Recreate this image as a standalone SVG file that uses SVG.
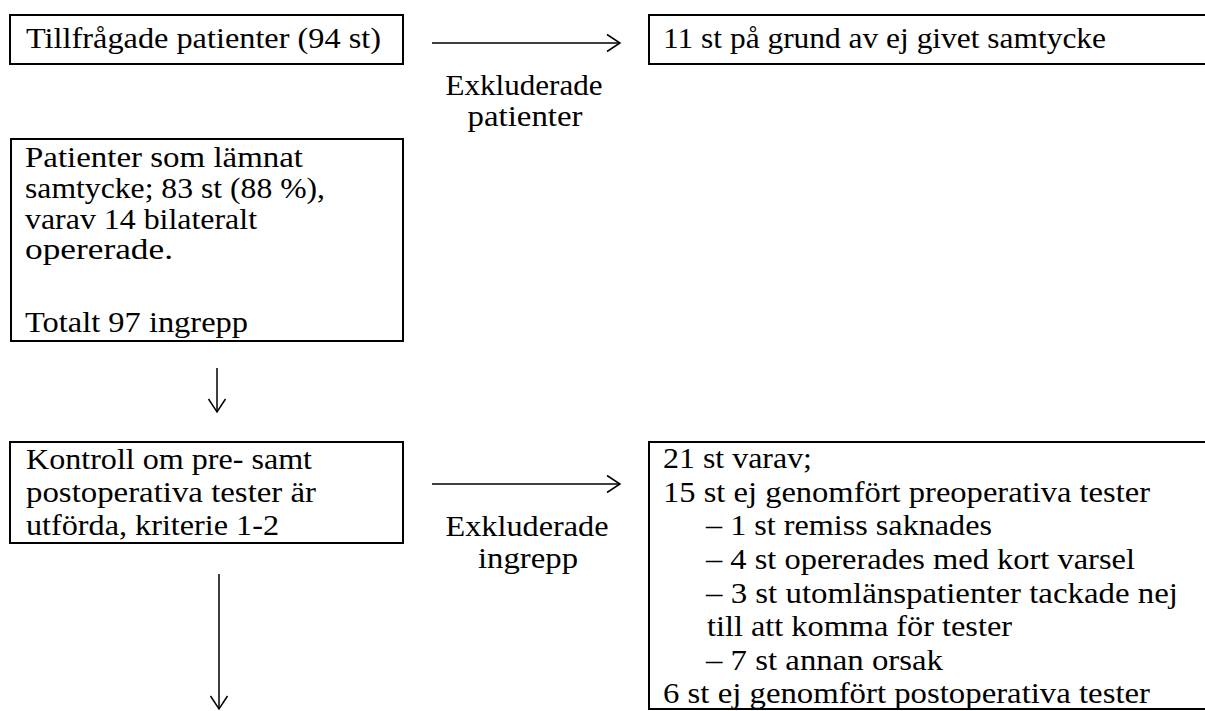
<svg xmlns="http://www.w3.org/2000/svg" width="1205" height="711" viewBox="0 0 1205 711">
<style>
.box{fill:#fff;stroke:#000;stroke-width:2}
.t{font-family:"Liberation Serif","Times New Roman",serif;font-size:30px;fill:#000}
.c{text-anchor:middle}
.ln{stroke:#000;stroke-width:1.5;fill:none}
</style>
<defs>
<marker id="ah" markerWidth="18" markerHeight="20" refX="14" refY="10" orient="auto" markerUnits="userSpaceOnUse">
<path d="M1,1.5 L14,10 L1,18.5" fill="none" stroke="#000" stroke-width="1.5"/>
</marker>
</defs>
<rect width="1205" height="711" fill="#fff"/>
<g id="connectors">
<line class="ln" x1="432" y1="43" x2="620" y2="43" marker-end="url(#ah)"/>
<line class="ln" x1="217" y1="368" x2="217" y2="412" marker-end="url(#ah)"/>
<line class="ln" x1="432" y1="484" x2="620" y2="484" marker-end="url(#ah)"/>
<line class="ln" x1="219" y1="574" x2="219" y2="709" marker-end="url(#ah)"/>
<text class="t c" x="524" y="95" textLength="157" lengthAdjust="spacingAndGlyphs">Exkluderade</text>
<text class="t c" x="525" y="126" textLength="115" lengthAdjust="spacingAndGlyphs">patienter</text>
<text class="t c" x="527" y="536" textLength="163" lengthAdjust="spacingAndGlyphs">Exkluderade</text>
<text class="t c" x="528" y="568" textLength="100" lengthAdjust="spacingAndGlyphs">ingrepp</text>
</g>
<g id="n1">
<rect class="box" x="10" y="15" width="393" height="49"/>
<text class="t" x="26" y="48" textLength="355" lengthAdjust="spacingAndGlyphs">Tillfrågade patienter (94 st)</text>
</g>
<g id="n2">
<rect class="box" x="649" y="15" width="600" height="49"/>
<text class="t" x="663" y="48" textLength="443" lengthAdjust="spacingAndGlyphs">11 st på grund av ej givet samtycke</text>
</g>
<g id="n3">
<rect class="box" x="11" y="139" width="392" height="202"/>
<text class="t" x="25" y="167" textLength="278" lengthAdjust="spacingAndGlyphs">Patienter som lämnat</text>
<text class="t" x="25" y="198" textLength="300" lengthAdjust="spacingAndGlyphs">samtycke; 83 st (88 %),</text>
<text class="t" x="25" y="229" textLength="232" lengthAdjust="spacingAndGlyphs">varav 14 bilateralt</text>
<text class="t" x="25" y="259" textLength="148" lengthAdjust="spacingAndGlyphs">opererade.</text>
<text class="t" x="25" y="332" textLength="223" lengthAdjust="spacingAndGlyphs">Totalt 97 ingrepp</text>
</g>
<g id="n4">
<rect class="box" x="10" y="442" width="393" height="101"/>
<text class="t" x="26" y="469" textLength="286" lengthAdjust="spacingAndGlyphs">Kontroll om pre- samt</text>
<text class="t" x="26" y="502" textLength="290" lengthAdjust="spacingAndGlyphs">postoperativa tester är</text>
<text class="t" x="26" y="535" textLength="253" lengthAdjust="spacingAndGlyphs">utförda, kriterie 1-2</text>
</g>
<g id="n5">
<rect class="box" x="649" y="442" width="600" height="267"/>
<text class="t" x="663" y="468" textLength="149" lengthAdjust="spacingAndGlyphs">21 st varav;</text>
<text class="t" x="663" y="502" textLength="487" lengthAdjust="spacingAndGlyphs">15 st ej genomfört preoperativa tester</text>
<text class="t" x="706" y="535" textLength="286" lengthAdjust="spacingAndGlyphs">– 1 st remiss saknades</text>
<text class="t" x="706" y="569" textLength="429" lengthAdjust="spacingAndGlyphs">– 4 st opererades med kort varsel</text>
<text class="t" x="706" y="603" textLength="472" lengthAdjust="spacingAndGlyphs">– 3 st utomlänspatienter tackade nej</text>
<text class="t" x="707" y="636" textLength="305" lengthAdjust="spacingAndGlyphs">till att komma för tester</text>
<text class="t" x="706" y="670" textLength="237" lengthAdjust="spacingAndGlyphs">– 7 st annan orsak</text>
<text class="t" x="663" y="703" textLength="487" lengthAdjust="spacingAndGlyphs">6 st ej genomfört postoperativa tester</text>
</g>
</svg>
